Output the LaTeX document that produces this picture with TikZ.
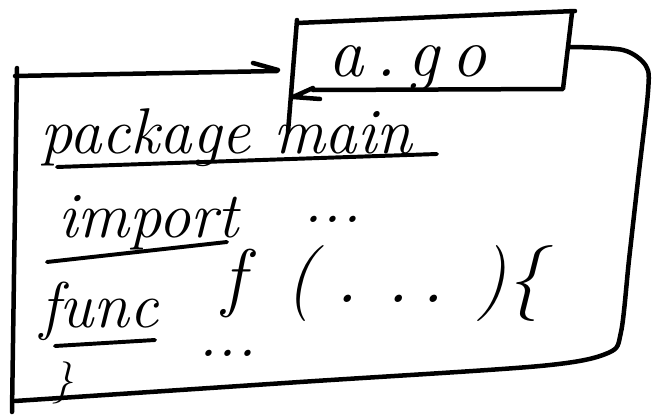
\documentclass[tikz,border=0pt]{standalone}
\usepackage{tikz}
\begin{document}
\begin{tikzpicture}[x=0.025cm,y=-0.025cm]
		\tikzstyle{pen}=[line width=3.2pt,line cap=round,line join=round]
		\tikzstyle{ink}=[line width=2.8pt,line cap=round]
		\tikzstyle{hand}=[inner sep=0pt,anchor=base west,font=\fontsize{46}{50}\selectfont\itshape]
		\useasboundingbox (0,0) rectangle (654,415);

		% file outline
		\draw[pen] (17,68) -- (12,412);
		\draw[pen] (15,76) -- (277,71);
		\draw[pen] (253,63) -- (278,70);
		\draw[pen] plot[smooth] coordinates {(570,47) (623,50) (646,66) (648,92) (638,180) (629,260) (621,332) (608,353) (540,366) (300,382) (15,401)};

		% tab with the file name
		\draw[pen] (297,23) -- (575,11);
		\draw[pen] (572,13) -- (563,89) -- (313,90);
		\draw[pen] (297,20) -- (288,132);
		\draw[pen] (313,88) -- (293,97) -- (320,99);
		\node[hand,font=\fontsize{50}{54}\selectfont\itshape] (name) at (328,76) {a\,.\,g\,o};

		% code lines
		\node[hand] (pkg) at (40,153) {package main};
		\draw[ink] (57,167) -- (437,154);

		\node[hand] (imp) at (58,237) {import};
		\node[hand] (impdots) at (303,222) {...};
		\draw[ink] (47,262) -- (227,242);

		\node[hand] (fn) at (40,327) {func};
		\node[hand,font=\fontsize{54}{58}\selectfont\itshape] (sig) at (222,302) {f\hspace{1.0cm}(\hspace{0.5cm}.\hspace{0.7cm}.\,.\hspace{0.8cm})\{};
		\draw[ink] (55,346) -- (155,340);
		\node[hand] (body) at (198,356) {...};
		\node[hand,font=\fontsize{30}{34}\selectfont\itshape] (close) at (52,393) {\}};

\end{tikzpicture}
\end{document}
